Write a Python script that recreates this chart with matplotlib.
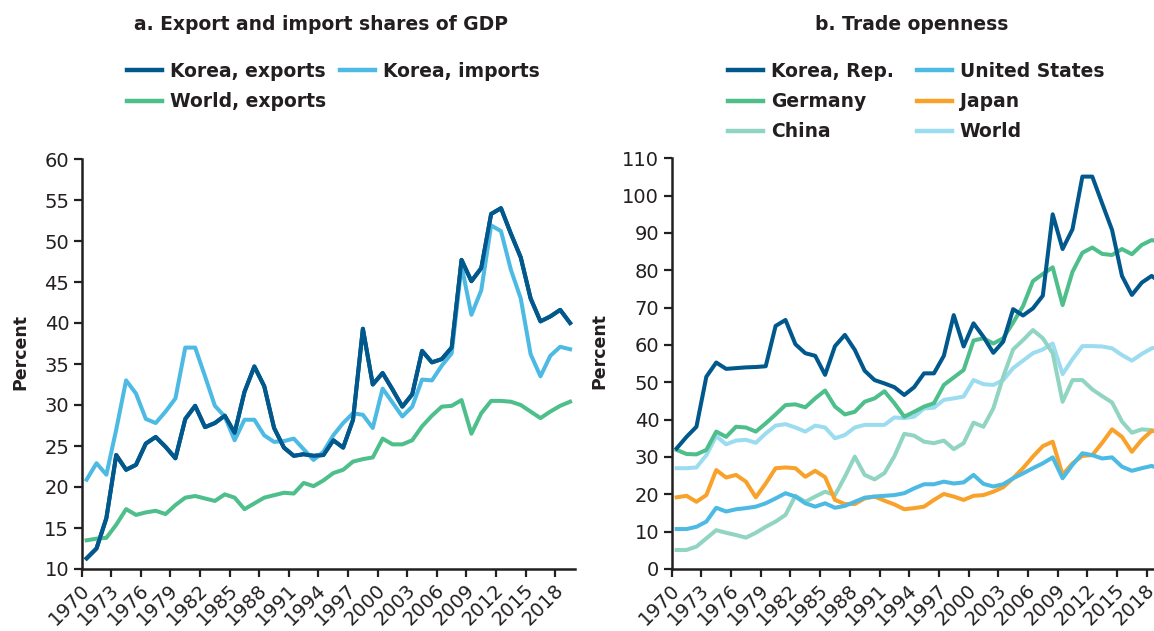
import matplotlib
matplotlib.use("Agg")
import matplotlib.pyplot as plt
import numpy as np

years = list(range(1970, 2020))

# Panel a: Export and import shares of GDP (percent)
korea_exports = [11.3, 12.5, 16.2, 23.9, 22.1, 22.7, 25.3, 26.1, 24.9, 23.5,
                 28.3, 29.9, 27.3, 27.8, 28.7, 26.6, 31.6, 34.7, 32.3, 27.2,
                 24.8, 23.8, 24.0, 23.8, 23.9, 25.7, 24.8, 28.2, 39.3, 32.5,
                 33.9, 31.9, 29.8, 31.3, 36.6, 35.2, 35.6, 37.0, 47.7, 45.1,
                 46.7, 53.3, 54.0, 50.9, 48.0, 43.0, 40.2, 40.8, 41.6, 40.0]
korea_imports = [20.9, 22.9, 21.5, 27.0, 33.0, 31.4, 28.3, 27.8, 29.2, 30.8,
                 37.0, 37.0, 33.5, 29.9, 28.6, 25.7, 28.2, 28.2, 26.3, 25.5,
                 25.6, 25.9, 24.6, 23.3, 24.3, 26.3, 27.8, 29.0, 28.8, 27.2,
                 32.0, 30.3, 28.6, 29.8, 33.1, 33.0, 34.8, 36.3, 47.0, 41.0,
                 44.0, 51.9, 51.2, 46.5, 43.0, 36.2, 33.5, 36.0, 37.1, 36.8]
world_exports = [13.5, 13.7, 13.8, 15.4, 17.3, 16.6, 16.9, 17.1, 16.7, 17.8,
                 18.7, 18.9, 18.6, 18.3, 19.1, 18.7, 17.3, 18.0, 18.7, 19.0,
                 19.3, 19.2, 20.5, 20.1, 20.8, 21.7, 22.1, 23.1, 23.4, 23.6,
                 25.9, 25.2, 25.2, 25.7, 27.4, 28.7, 29.8, 29.9, 30.6, 26.5,
                 29.0, 30.5, 30.5, 30.4, 30.0, 29.2, 28.4, 29.2, 29.9, 30.4]

# Panel b: Trade openness (percent of GDP)
korea_rep = [32.3, 35.4, 38.1, 51.5, 55.3, 53.6, 53.8, 54.0, 54.1, 54.3,
             65.1, 66.7, 60.2, 57.8, 57.1, 52.0, 59.7, 62.7, 58.7, 53.1,
             50.6, 49.7, 48.7, 46.6, 48.7, 52.4, 52.4, 57.1, 68.0, 59.6,
             65.8, 62.2, 57.9, 60.9, 69.6, 67.9, 69.8, 73.2, 95.0, 85.7,
             91.0, 105.1, 105.1, 97.9, 90.8, 78.5, 73.4, 76.7, 78.5, 76.5]
united_states = [10.7, 10.7, 11.3, 12.7, 16.4, 15.4, 16.0, 16.3, 16.7, 17.6,
                 18.9, 20.3, 19.4, 17.6, 16.7, 17.6, 16.4, 16.9, 18.0, 19.1,
                 19.4, 19.6, 19.8, 20.3, 21.6, 22.7, 22.7, 23.4, 22.9, 23.2,
                 25.2, 22.8, 22.1, 22.7, 24.3, 25.6, 27.0, 28.3, 29.9, 24.3,
                 27.9, 31.0, 30.5, 29.6, 29.9, 27.4, 26.3, 27.0, 27.6, 26.7]
germany = [31.9, 30.8, 30.7, 31.9, 36.8, 35.4, 38.1, 37.9, 36.8, 39.0,
           41.4, 43.9, 44.1, 43.3, 45.7, 47.8, 43.5, 41.4, 42.1, 44.8,
           45.7, 47.6, 44.4, 40.8, 42.1, 43.5, 44.4, 49.3, 51.3, 53.3,
           61.2, 61.8, 60.4, 61.8, 66.0, 70.4, 77.1, 79.0, 80.8, 70.7,
           79.6, 84.7, 86.1, 84.4, 84.1, 85.7, 84.3, 86.8, 88.1, 87.6]
japan = [19.2, 19.6, 18.0, 19.8, 26.5, 24.5, 25.2, 23.4, 19.2, 22.9,
         27.0, 27.2, 27.0, 24.7, 26.3, 24.6, 18.5, 17.4, 17.4, 18.9,
         19.4, 18.3, 17.3, 16.0, 16.3, 16.7, 18.5, 20.1, 19.4, 18.5,
         19.6, 19.8, 20.7, 21.9, 24.3, 27.0, 30.1, 32.9, 34.1, 25.2,
         28.3, 30.3, 30.5, 33.8, 37.4, 35.4, 31.4, 34.6, 37.0, 36.6]
china = [5.1, 5.1, 6.0, 8.2, 10.4, 9.7, 9.1, 8.4, 9.7, 11.3,
         12.7, 14.5, 19.6, 18.0, 19.4, 20.7, 19.8, 24.7, 30.1, 25.2,
         24.0, 25.7, 30.2, 36.2, 35.7, 34.1, 33.7, 34.4, 32.1, 33.7,
         39.2, 38.1, 43.0, 51.5, 58.8, 61.3, 64.0, 61.8, 57.8, 44.8,
         50.6, 50.6, 48.1, 46.3, 44.6, 39.5, 36.5, 37.4, 37.2, 36.3]
world = [27.0, 27.0, 27.2, 30.5, 35.6, 33.4, 34.4, 34.6, 33.8, 36.3,
         38.4, 38.8, 37.9, 36.8, 38.4, 37.9, 35.0, 35.9, 37.9, 38.6,
         38.6, 38.6, 40.6, 40.4, 40.8, 43.0, 43.2, 45.3, 45.7, 46.2,
         50.6, 49.5, 49.3, 50.6, 53.8, 55.8, 57.8, 58.8, 60.4, 52.2,
         56.2, 59.7, 59.7, 59.6, 59.1, 57.3, 55.8, 57.6, 59.1, 59.6]

tick_years = list(range(1970, 2019, 3))

C_DARK = "#00588C"
C_LBLUE = "#4DBAE4"
C_GREEN = "#4EBF8B"
C_ORANGE = "#F9A22B"
C_MINT = "#90D4C1"
C_PALE = "#9CDCF0"

plt.rcParams['font.family'] = ['DejaVu Sans']

W, H = 1154, 631
fig = plt.figure(figsize=(W / 100, H / 100), dpi=100)

def px_ax(left, top, right, bottom):
    return [left / W, (H - bottom) / H, (right - left) / W, (bottom - top) / H]

axA = fig.add_axes(px_ax(81.7, 159, 575, 569))
axB = fig.add_axes(px_ax(671.7, 158.3, 1166.5, 569))

TXT = "#231F20"
LW = 2.9
TICK_FS = 14

def style(ax, ylim, yticks):
    ax.set_xlim(1969.5, 2019.5)
    ax.set_ylim(*ylim)
    ax.set_yticks(yticks)
    ax.set_xticks(tick_years)
    ax.set_xticklabels([str(y) for y in tick_years], rotation=45,
                       ha='right', va='center', rotation_mode='anchor')
    ax.set_xticks([y - 0.5 for y in tick_years], minor=True)
    ax.tick_params(axis='x', which='major', length=0, pad=13,
                   labelsize=TICK_FS, labelcolor=TXT)
    ax.tick_params(axis='x', which='minor', length=6, width=1.6,
                   color=TXT, direction='out')
    ax.tick_params(axis='y', length=6, width=1.6, color=TXT, pad=3,
                   labelsize=TICK_FS, labelcolor=TXT)
    for s in ('top', 'right'):
        ax.spines[s].set_visible(False)
    for s in ('left', 'bottom'):
        ax.spines[s].set_linewidth(1.8)
        ax.spines[s].set_color(TXT)
    ax.set_ylabel("Percent", fontsize=12.5, fontweight='bold', color=TXT)
    ax.patch.set_alpha(0)

# Panel a
la, = axA.plot(years, korea_exports, color=C_DARK, lw=LW, label="Korea, exports")
lb, = axA.plot(years, korea_imports, color=C_LBLUE, lw=LW, label="Korea, imports")
lc, = axA.plot(years, world_exports, color=C_GREEN, lw=LW, label="World, exports")
axA.plot(years, korea_exports, color=C_DARK, lw=LW)
style(axA, (10, 60), range(10, 61, 5))
axA.yaxis.set_label_coords((29 - 81.7) / 493.3, 0.53)

# Panel b
series_b = [
    (korea_rep, C_DARK, "Korea, Rep."),
    (united_states, C_LBLUE, "United States"),
    (germany, C_GREEN, "Germany"),
    (japan, C_ORANGE, "Japan"),
    (china, C_MINT, "China"),
    (world, C_PALE, "World"),
]
handles_b = {}
draw_order = ["World", "China", "Japan", "United States", "Germany", "Korea, Rep."]
lookup = {lab: (vals, col) for vals, col, lab in series_b}
for lab in draw_order:
    vals, col = lookup[lab]
    h, = axB.plot(years, vals, color=col, lw=LW, label=lab)
    handles_b[lab] = h
style(axB, (0, 110), range(0, 111, 10))
axB.yaxis.set_label_coords((608 - 671.7) / 494.8, 0.53)

# Titles
fig.text(321 / W, 1 - 24 / H, "a. Export and import shares of GDP",
         ha='center', va='center', fontsize=13.5, fontweight='bold', color=TXT)
fig.text(912 / W, 1 - 24 / H, "b. Trade openness",
         ha='center', va='center', fontsize=13.5, fontweight='bold', color=TXT)

# Legends
leg_kw = dict(frameon=False, fontsize=13.5, handlelength=1.87, handletextpad=0.43,
              labelspacing=0.59, borderpad=0, borderaxespad=0, loc='upper left')
legA = fig.legend([la, lc, lb], ["Korea, exports", "World, exports", "Korea, imports"],
                  ncol=2, columnspacing=0.75,
                  bbox_to_anchor=(127 / W, 1 - 62 / H), **leg_kw)
order_b = ["Korea, Rep.", "Germany", "China", "United States", "Japan", "World"]
legB = fig.legend([handles_b[k] for k in order_b], order_b, ncol=2,
                  columnspacing=1.2,
                  bbox_to_anchor=(728 / W, 1 - 62 / H), **leg_kw)
for leg in (legA, legB):
    for t in leg.get_texts():
        t.set_fontweight('bold')
        t.set_color(TXT)
    for l in leg.get_lines():
        l.set_linewidth(3.2)

fig.savefig("out.png", dpi=100)
